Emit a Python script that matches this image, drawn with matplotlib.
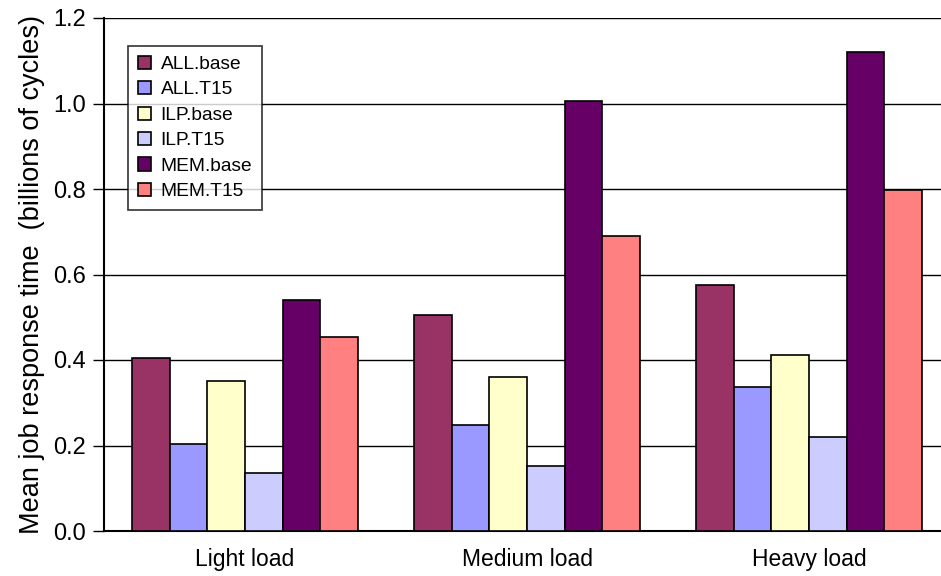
import matplotlib
matplotlib.use("Agg")
import matplotlib.pyplot as plt
import numpy as np

plt.rcParams['font.family'] = ['Liberation Sans', 'DejaVu Sans']

categories = ["Light load", "Medium load", "Heavy load"]
series_names = ["ALL.base", "ALL.T15", "ILP.base", "ILP.T15", "MEM.base", "MEM.T15"]
all_base = [0.405, 0.505, 0.575]
all_t15 = [0.203, 0.248, 0.337]
ilp_base = [0.352, 0.360, 0.412]
ilp_t15 = [0.136, 0.152, 0.220]
mem_base = [0.540, 1.006, 1.120]
mem_t15 = [0.453, 0.690, 0.798]
series = [all_base, all_t15, ilp_base, ilp_t15, mem_base, mem_t15]
colors = ["#993366", "#9999FF", "#FFFFCC", "#CCCCFF", "#660066", "#FF8080"]
yticks = [0.0, 0.2, 0.4, 0.6, 0.8, 1.0, 1.2]

fig = plt.figure(figsize=(9.41, 5.76), dpi=100)
ax = fig.add_axes([104/941, 1-531/576, 846/941, (531-18)/576])

n = len(series)
bw = 0.8 / n
x = np.arange(len(categories))
for i, (vals, c, name) in enumerate(zip(series, colors, series_names)):
    ax.bar(x - 0.4 + bw*(i+0.5), vals, bw, color=c, edgecolor='black', linewidth=1.2, label=name, zorder=3)

ax.set_xlim(-0.5, len(categories)-0.5)
ax.set_ylim(0, 1.2)
ax.set_yticks(yticks)
ax.set_yticklabels([f"{v:.1f}" for v in yticks], fontsize=17)
ax.set_xticks(x)
ax.set_xticklabels(categories, fontsize=16.5)
ax.tick_params(axis='x', length=0, pad=12)
ax.tick_params(axis='y', length=8, width=1, direction='out', pad=5)
ax.yaxis.grid(True, color='black', linewidth=1, zorder=0)
ax.set_axisbelow(True)
for s in ['top', 'right']:
    ax.spines[s].set_visible(False)
ax.spines['left'].set_linewidth(1.5)
ax.spines['bottom'].set_linewidth(1.5)
ax.set_ylabel("Mean job response time  (billions of cycles)", fontsize=19.5, labelpad=6)

leg = ax.legend(loc='upper left', bbox_to_anchor=((128-104)/846, 1 - (46-18)/513),
                fontsize=13.8, frameon=True, fancybox=False, edgecolor='black',
                handlelength=0.7, handleheight=0.7, handletextpad=0.5, labelspacing=0.42,
                borderpad=0.5, borderaxespad=0)
leg.get_frame().set_linewidth(1.2)
leg.set_zorder(5)

fig.savefig("out.png", dpi=100, facecolor='white')
